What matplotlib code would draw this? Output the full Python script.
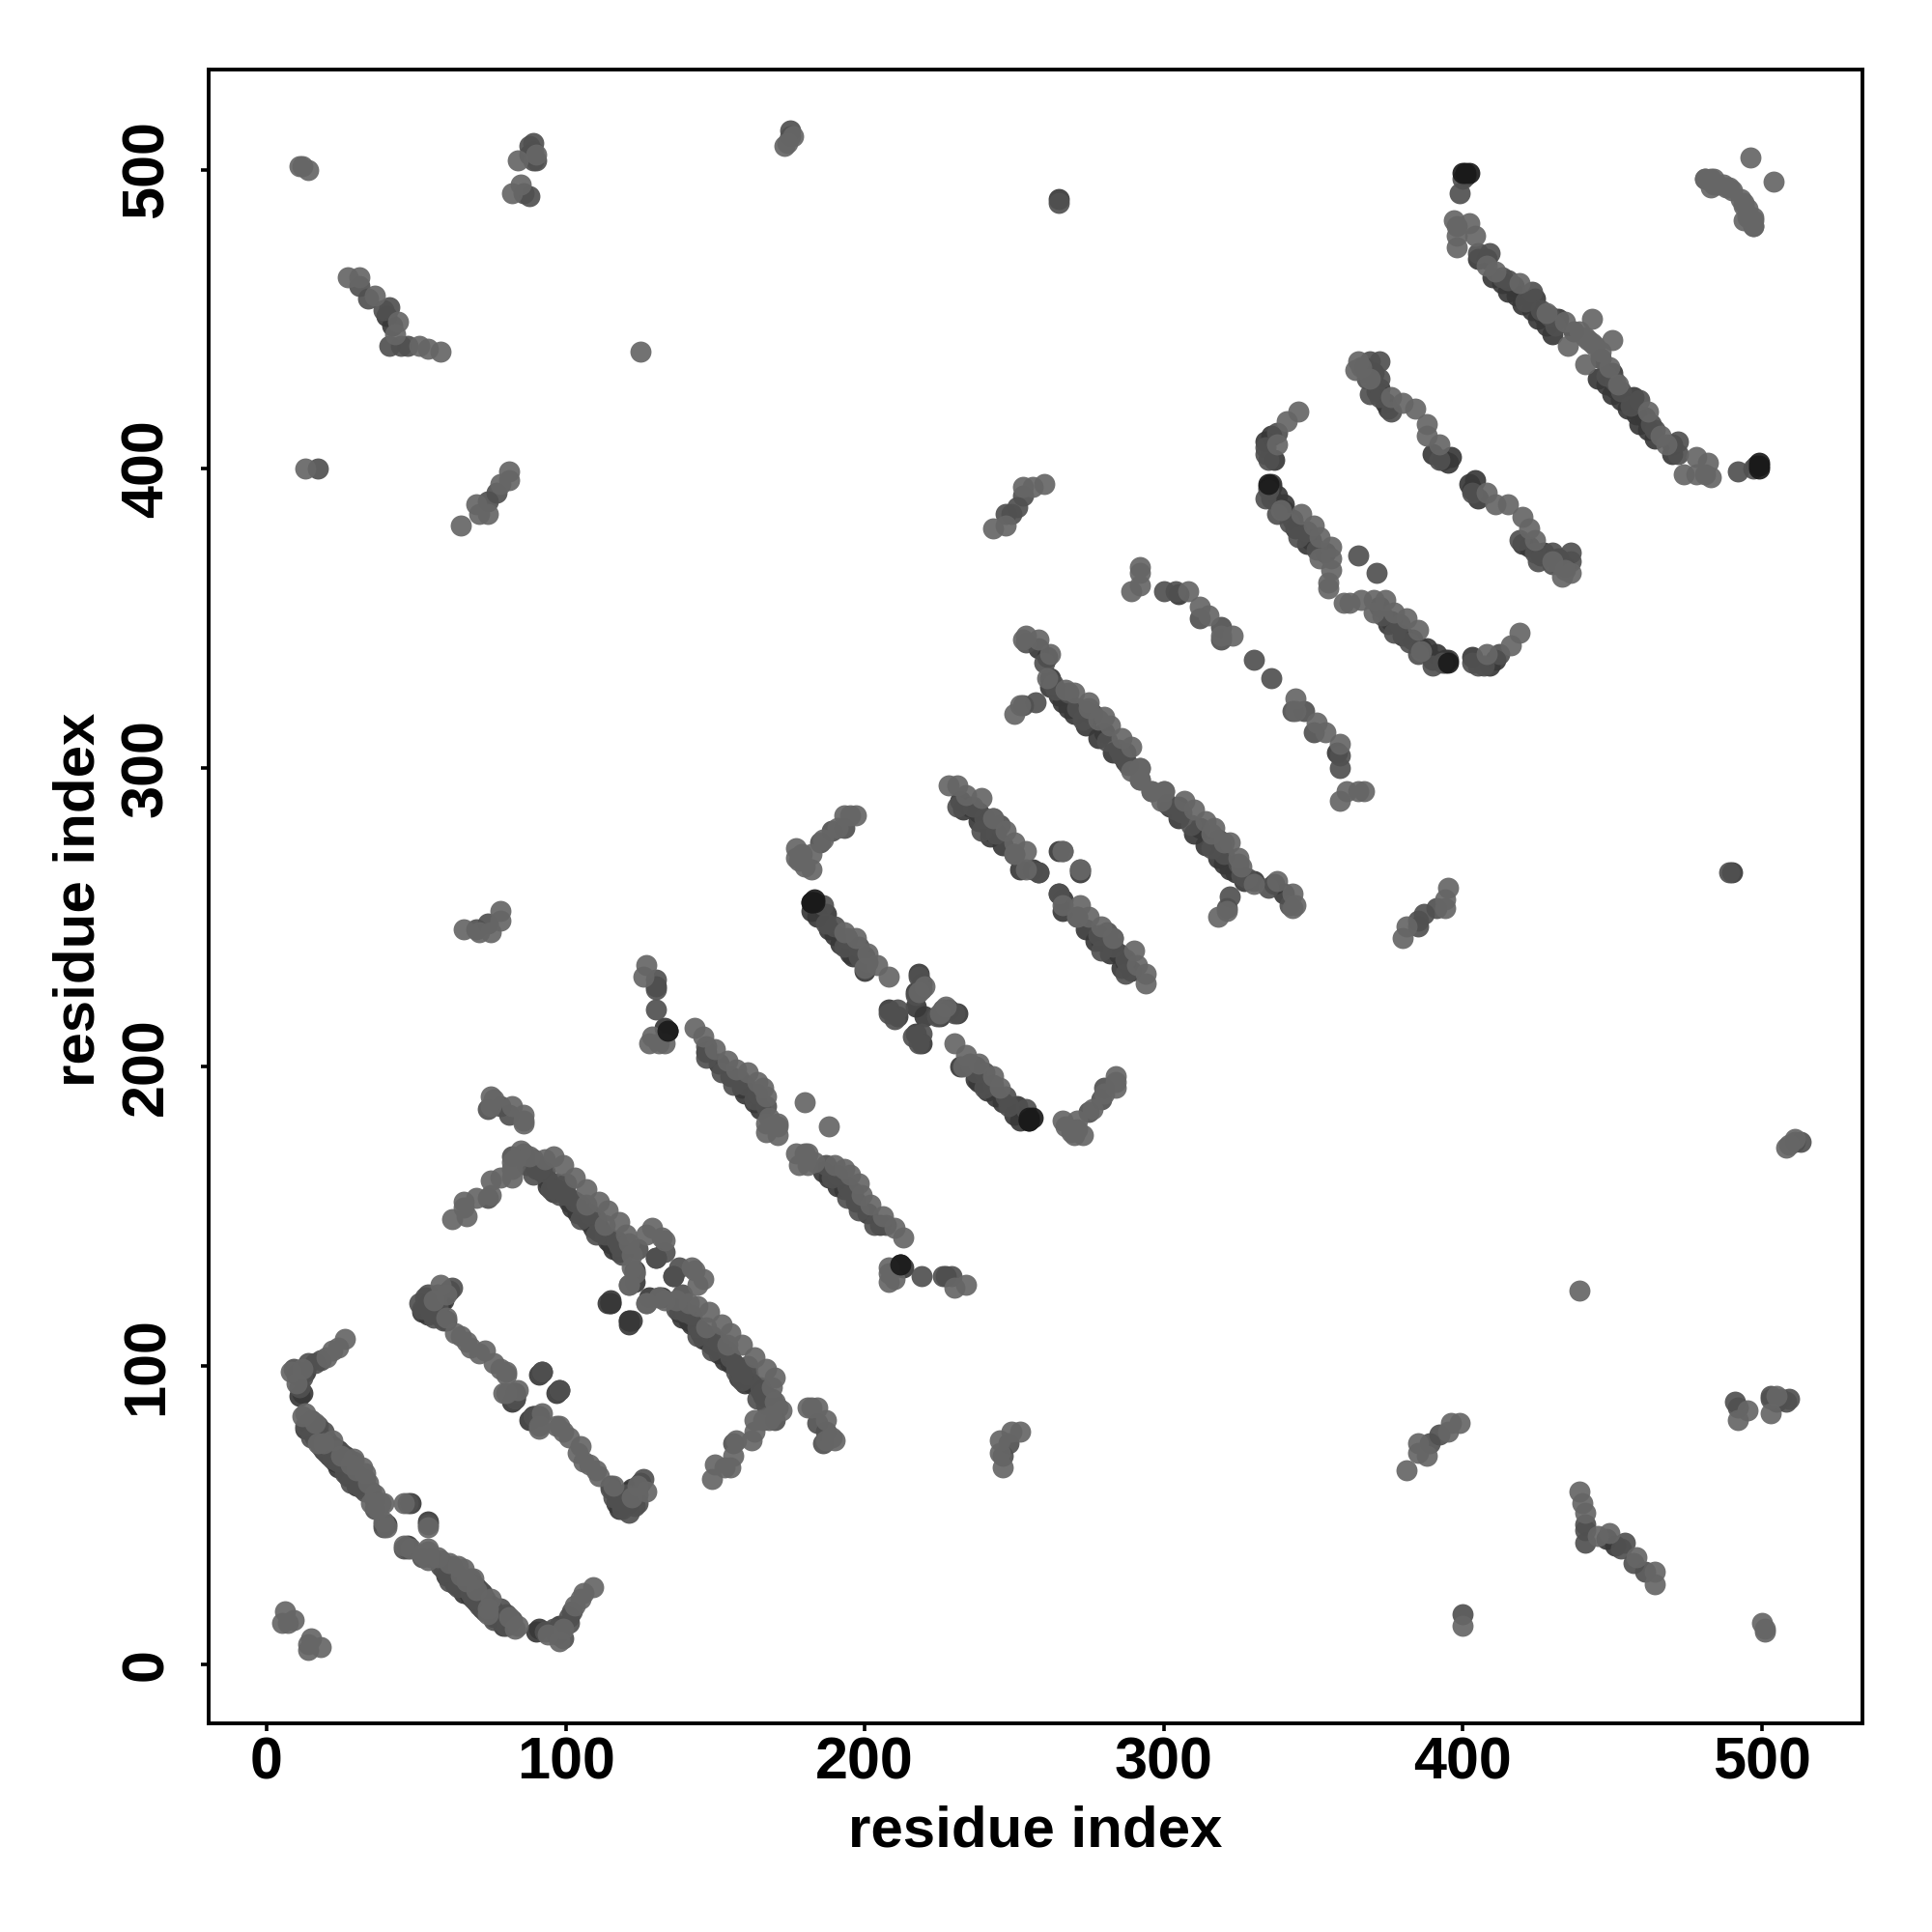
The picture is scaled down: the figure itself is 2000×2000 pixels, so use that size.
import matplotlib
matplotlib.use("Agg")
import matplotlib.pyplot as plt

light_contacts = [
    (5, 14), (6, 18), (7, 14), (9, 15),
    (12, 83), (13, 84), (16, 81), (19, 74), (17, 74), (22, 75), (25, 70), (29, 69), (33, 64), (30, 65),
    (34, 61), (36, 57), (35, 54), (38, 54), (39, 54), (39, 48), (46, 54), (40, 46), (37, 52), (28, 67), (32, 66),
    (10, 94), (12, 99), (20, 103), (22, 105), (24, 106), (26, 109), (8, 98),
    (58, 127), (60, 124), (56, 122), (60, 116), (63, 111), (65, 110), (67, 108), (68, 106), (71, 104),
    (73, 105), (76, 101), (78, 99), (80, 98), (80, 91), (91, 79), (97, 80), (92, 84),
    (62, 149), (67, 150), (66, 155), (66, 153), (70, 156), (75, 157), (75, 162), (78, 163), (82, 163), (82, 166),
    (83, 169), (82, 168), (85, 172), (93, 169), (88, 170), (107, 154), (113, 147), (120, 144), (121, 141), (122, 137),
    (127, 144), (129, 146), (133, 142), (132, 143), (122, 133), (121, 127), (127, 121), (131, 123),
    (96, 170), (99, 167), (103, 163), (107, 159), (111, 155), (114, 152), (118, 148),
    (75, 190), (75, 187), (76, 189), (82, 187), (86, 184), (86, 181), (86, 182),
    (127, 234), (126, 230), (128, 208), (131, 208), (133, 208), (129, 210),
    (143, 213), (146, 210), (150, 206), (154, 202), (157, 199), (161, 198), (164, 195), (166, 193), (167, 190),
    (167, 181), (171, 180), (171, 177), (168, 183), (180, 188), (171, 181), (167, 178),
    (177, 273), (178, 269), (177, 270), (179, 271), (182, 266), (182, 271), (180, 267), (193, 284), (197, 284), (195, 284),
    (191, 280), (186, 276),
    (197, 243), (193, 245), (201, 238), (200, 233), (204, 234), (208, 230), (220, 227), (218, 225),
    (228, 294), (231, 294), (234, 291), (239, 290), (247, 279), (243, 283), (250, 275), (254, 272), (250, 271),
    (254, 266), (266, 272), (252, 321), (250, 318),
    (258, 343), (254, 344), (253, 343), (262, 338), (261, 330), (267, 326), (275, 320), (278, 316), (282, 314), (286, 310),
    (289, 307), (292, 300), (296, 292), (292, 296), (300, 292), (299, 289), (270, 325), (275, 322), (280, 317),
    (292, 367), (292, 365), (289, 359), (292, 361),
    (308, 359), (312, 354), (315, 351), (323, 344), (319, 344),
    (345, 419), (341, 416), (338, 408),
    (339, 386), (346, 385), (350, 381), (352, 377), (356, 374), (352, 370), (356, 370), (356, 366), (355, 362), (355, 360),
    (365, 436), (364, 433), (369, 430), (376, 424), (380, 422), (384, 420), (388, 415), (388, 411), (392, 408), (366, 434),
    (408, 468), (419, 462), (411, 466), (397, 483), (398, 478), (404, 478), (398, 474), (398, 481), (402, 482), (443, 450),
    (428, 452), (434, 449), (439, 446), (441, 444), (435, 441), (443, 442),
    (481, 497), (483, 497), (485, 495), (488, 494), (490, 493), (496, 504), (494, 489), (497, 481), (497, 484), (495, 487),
    (484, 495), (483, 494),
    (12, 501), (14, 500), (11, 501), (84, 503), (82, 492), (85, 495), (90, 505), (173, 508), (174, 509), (176, 511),
    (27, 464), (31, 464), (44, 449), (43, 445), (54, 440), (58, 439), (51, 441), (36, 458),
    (125, 439), (13, 400), (65, 381), (70, 388), (71, 385), (74, 385), (78, 395), (81, 396), (81, 399),
    (243, 380), (247, 381), (253, 394), (260, 395), (256, 394),
    (66, 246), (71, 245), (75, 245), (78, 252), (78, 249),
]
mid_contacts = [
    (13, 80), (15, 82), (17, 80), (19, 78), (15, 76), (18, 73), (20, 71), (23, 72), (25, 71), (24, 68), (22, 69), (27, 69),
    (29, 68), (26, 64), (28, 61), (31, 63), (31, 60), (33, 62), (33, 58), (32, 59), (35, 58), (36, 55), (36, 52),
    (39, 47), (39, 46), (47, 54),
    (9, 99), (10, 97), (11, 98), (14, 101), (16, 101), (18, 102), (12, 96), (11, 93),
    (51, 121), (52, 119), (53, 123), (55, 118), (57, 120), (62, 126), (56, 116), (59, 115), (83, 89), (83, 91), (92, 98),
    (54, 124), (57, 124),
    (74, 156), (82, 170), (86, 171), (87, 167), (89, 169), (91, 166), (89, 164), (93, 165), (97, 161), (100, 161),
    (95, 159), (98, 157), (103, 155), (100, 157), (105, 154), (105, 149), (108, 151), (110, 149), (113, 144), (110, 144),
    (117, 142), (119, 137), (118, 140), (124, 139), (123, 131), (130, 136), (138, 133),
    (78, 187), (74, 186), (81, 184),
    (130, 229), (130, 226), (130, 219), (134, 212),
    (147, 207), (147, 203), (152, 198), (156, 194), (160, 194), (163, 189), (158, 196), (164, 191), (167, 187),
    (185, 275), (189, 279), (193, 280),
    (186, 254), (187, 248), (190, 247), (194, 243), (198, 237), (201, 235), (193, 240), (198, 240),
    (208, 218), (211, 219), (210, 216), (218, 230), (217, 224), (219, 226),
    (231, 287), (236, 287), (240, 283), (239, 279), (243, 283), (244, 278), (245, 281), (250, 271), (258, 265),
    (266, 272), (253, 321), (257, 322), (264, 326), (268, 325), (271, 320), (273, 316), (281, 309), (286, 304),
    (285, 306), (288, 301), (254, 342), (260, 335), (263, 328),
    (300, 359), (304, 359), (312, 350), (319, 347), (319, 343), (330, 336),
    (338, 412), (334, 407), (335, 403), (334, 405), (335, 393), (334, 390), (338, 385), (342, 382), (345, 377), (348, 379),
    (351, 373), (365, 371),
    (369, 436), (372, 436), (368, 430), (372, 430), (372, 424), (376, 419), (369, 425), (392, 403),
    (409, 472), (405, 472), (413, 464), (415, 463), (423, 459), (426, 453), (429, 451), (431, 448), (437, 446), (421, 456),
    (399, 492), (400, 497),
    (89, 509), (89, 503), (88, 491), (86, 492), (175, 513), (175, 511), (89, 506), (90, 503), (88, 508),
    (34, 457), (31, 461), (39, 453), (41, 454), (41, 441), (45, 441), (47, 441),
    (17, 400), (74, 389), (77, 392), (247, 385), (251, 387), (253, 391), (249, 385),
    (74, 248), (70, 246), (265, 489),
]
dark_contacts = [
    (14, 81), (16, 79), (18, 76), (20, 75), (22, 73), (24, 72), (26, 70), (25, 67), (27, 66), (29, 65), (23, 70), (21, 72),
    (30, 62), (28, 63), (12, 91), (11, 90), (13, 98), (48, 54), (40, 47),
    (16, 76), (19, 72), (21, 70), (24, 66), (27, 63), (30, 60), (13, 79), (18, 74), (23, 68), (26, 65),
    (54, 121), (56, 119), (59, 122), (61, 125), (60, 115), (83, 90), (82, 88), (91, 83), (89, 83),
    (52, 118), (54, 117), (55, 120), (57, 117), (58, 121), (92, 98), (91, 97),
    (90, 167), (92, 165), (94, 160), (96, 158), (99, 158), (101, 155), (102, 153), (104, 151), (107, 149), (109, 146),
    (111, 146), (114, 143), (115, 141), (116, 139), (121, 115), (115, 121), (130, 136), (122, 115), (114, 121),
    (132, 123), (123, 128),
    (90, 166), (94, 162), (97, 159), (101, 156), (104, 152), (108, 148), (111, 145), (114, 142), (118, 138),
    (130, 227), (134, 212), (160, 191), (165, 186), (147, 205), (151, 201), (155, 197), (159, 193), (163, 188),
    (182, 252), (187, 251), (190, 244), (195, 238), (200, 237), (184, 250), (188, 246), (192, 241), (196, 237), (200, 232),
    (208, 219), (211, 217), (218, 231), (217, 225), (219, 228), (220, 217),
    (235, 287), (238, 285), (242, 279), (252, 266), (256, 266), (258, 265), (265, 272),
    (233, 286), (238, 282), (242, 277), (246, 274), (232, 289),
    (274, 319), (276, 318), (280, 312), (287, 305), (258, 340), (261, 337), (262, 330), (265, 324), (268, 320),
    (262, 327), (266, 322), (270, 318), (274, 314), (278, 310), (283, 305), (287, 302),
    (305, 358), (334, 409), (336, 411), (337, 403), (336, 395), (338, 391), (340, 388), (343, 383), (349, 376), (354, 372),
    (336, 390), (340, 386), (344, 380), (348, 375), (336, 394), (335, 394),
    (367, 434), (370, 432), (372, 427), (375, 420), (395, 402), (417, 461), (424, 457), (427, 451), (432, 450),
    (368, 432), (371, 426), (374, 422), (390, 405), (393, 403), (396, 404),
    (405, 470), (410, 464), (415, 459), (420, 455), (425, 450), (430, 445), (408, 470), (413, 462), (418, 458), (423, 453),
    (428, 448),
    (401, 498), (88, 505), (265, 490), (42, 448), (40, 451), (213, 133),
]
black_contacts = [
    (182, 255), (183, 255), (256, 183), (255, 182), (395, 335),
    (134, 212), (402, 499), (401, 499), (400, 499),
]

tick_values = [0, 100, 200, 300, 400, 500]

plt.rcParams["font.family"] = ["Liberation Sans", "DejaVu Sans"]
plt.rcParams["font.weight"] = "bold"

fig = plt.figure(figsize=(10, 10), dpi=200)
ax = fig.add_axes([216 / 2000, (2000 - 1783.5) / 2000, 1712 / 2000, 1712 / 2000])


def DrawContacts(contacts, colour):
    xs = [c[0] for c in contacts] + [c[1] for c in contacts]
    ys = [c[1] for c in contacts] + [c[0] for c in contacts]
    ax.scatter(xs, ys, s=62, color=colour, alpha=0.92, linewidths=0, zorder=3)


DrawContacts(dark_contacts, "#383838")
DrawContacts(mid_contacts, "#505050")
DrawContacts(light_contacts, "#666666")
DrawContacts(black_contacts, "#1a1a1a")

ax.set_xlim(-19.4, 533.6)
ax.set_ylim(-19.4, 533.6)
ax.set_xticks(tick_values)
ax.set_yticks(tick_values)
ax.tick_params(axis="x", length=3, width=1.3, pad=2, labelsize=22)
ax.tick_params(axis="y", length=3, width=1.3, pad=9.5, labelsize=22)
for label in ax.get_yticklabels():
    label.set_rotation(90)
    label.set_va("center")
for spine in ax.spines.values():
    spine.set_linewidth(1.4)

ax.set_xlabel("residue index", fontsize=21.6, fontweight="bold")
ax.set_ylabel("residue index", fontsize=21.6, fontweight="bold")
ax.xaxis.set_label_coords(0.5, -0.066)
ax.yaxis.set_label_coords(-0.078, 0.4975)
ax.xaxis.label.set_va("center")
ax.yaxis.label.set_va("center")

fig.savefig("out.png", dpi=200)
